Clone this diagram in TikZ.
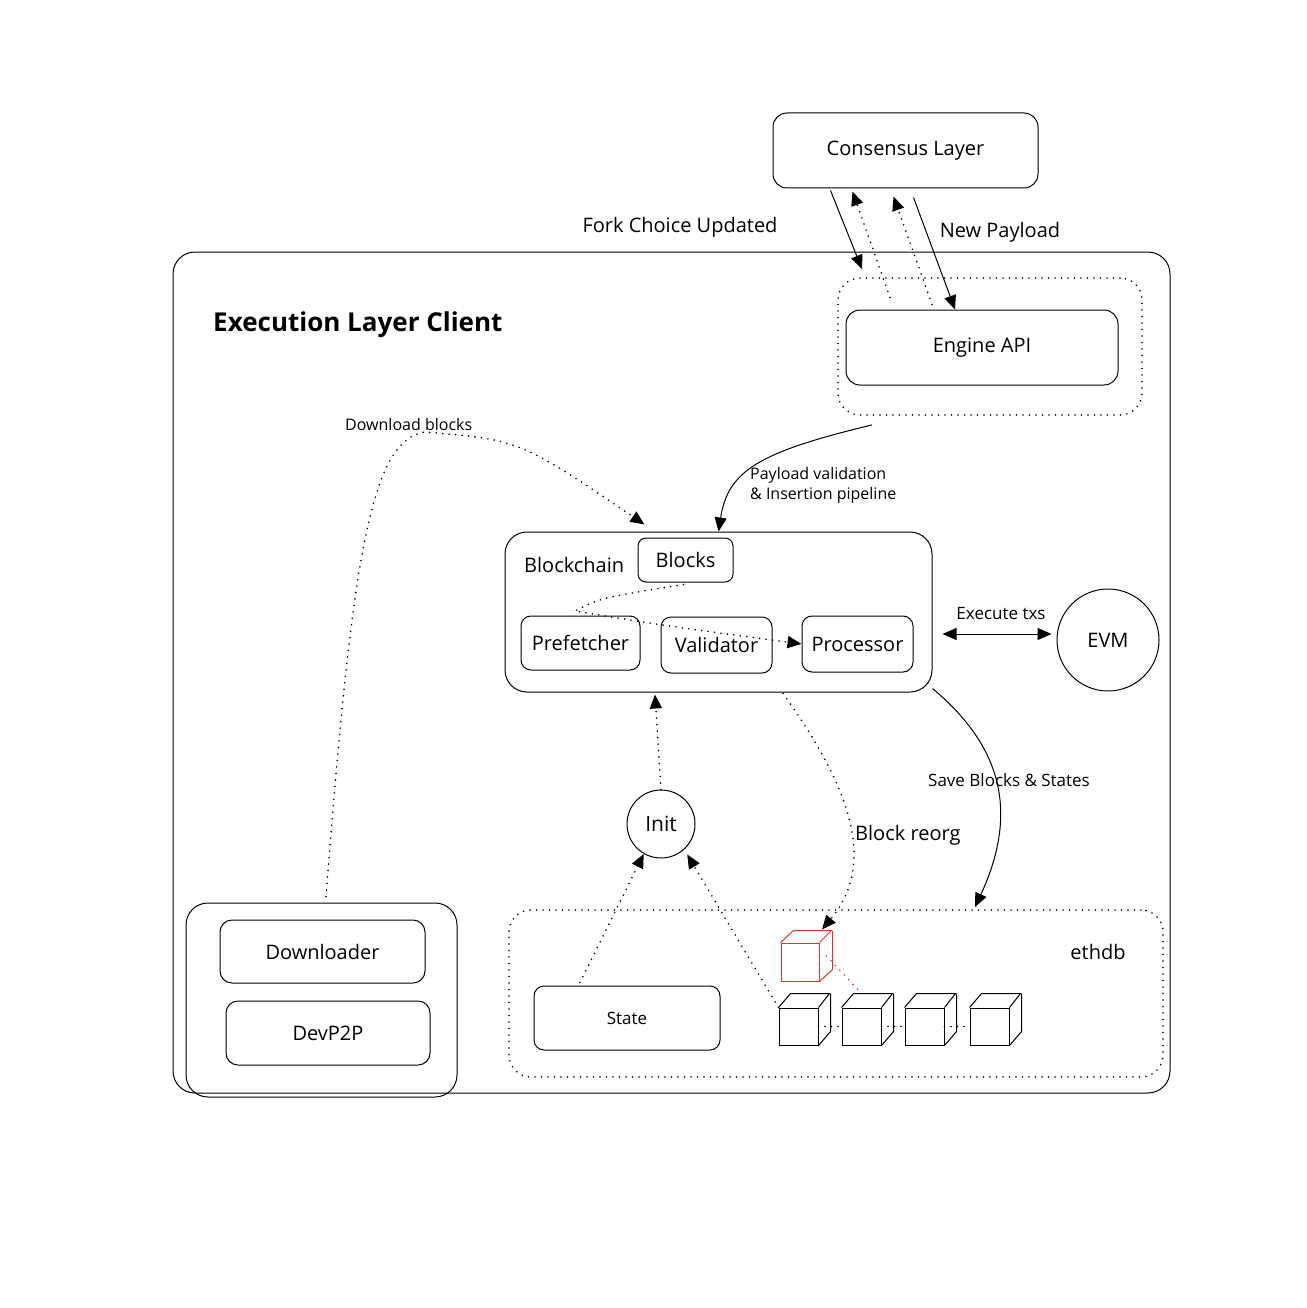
\documentclass[tikz,border=0pt]{standalone}
\usepackage{fontspec}
\setmainfont{Open Sans}
\usetikzlibrary{arrows.meta}
\newcommand{\fsz}[1]{\fontsize{#1}{#1}\selectfont}
\definecolor{xred}{HTML}{E03131}

\tikzstyle{every node}=[inner sep=0pt, font=\fsz{20}]
\tikzstyle{note}=[font=\fsz{16}]
\tikzstyle{box}=[draw, line width=1pt, rounded corners=12pt]
\tikzstyle{grp}=[draw, line width=1pt, rounded corners=22pt]
\tikzstyle{dotline}=[line width=1.8pt, line cap=round, dash pattern=on 0pt off 6.5pt]
\tikzstyle{dotgrp}=[grp, dotline]
\tikzstyle{arr}=[-{Triangle[length=14pt,width=12pt]}]
\tikzstyle{cube}=[draw, line width=1pt, minimum width=39pt, minimum height=37pt]

\begin{document}
\begin{tikzpicture}[x=1pt, y=-1pt]
    \useasboundingbox (0,0) rectangle (1306,1308);

    \node [box, minimum width=265pt, minimum height=75pt, rounded corners=14pt] (cons) at (905.5,150.5) {Consensus Layer};

    \node [grp, minimum width=997pt, minimum height=841pt] (elc) at (671.5,672.5) {};
    \node [anchor=west, font=\fsz{26}\bfseries] (title) at (213,325) {Execution Layer Client};

    \node [dotgrp, minimum width=304pt, minimum height=137pt] (engdot) at (990,346.5) {};
    \node [box, minimum width=272pt, minimum height=75pt, rounded corners=14pt] (eng) at (982,347.5) {Engine API};

    \node (fcu) at (680,227) {Fork Choice Updated};
    \node (np) at (1000,232) {New Payload};

    \draw [arr, line width=1pt] ([xshift=-75pt,yshift=-2pt]cons.south) -- ([xshift=-128pt,yshift=8pt]engdot.north);
    \draw [arr, dotline] ([xshift=-92pt,yshift=12pt]eng.north) -- ([xshift=-53pt,yshift=-3pt]cons.south);
    \draw [arr, dotline] ([xshift=-50pt,yshift=5pt]eng.north) -- ([xshift=-12pt,yshift=-8pt]cons.south);
    \draw [arr, line width=1pt] ([xshift=8pt,yshift=-9pt]cons.south) -- ([xshift=-27pt]eng.north);

    \node [grp, minimum width=427pt, minimum height=160pt] (bc) at (718.5,612) {};
    \node [anchor=west] (bclbl) at (524,565) {Blockchain};
    \node [box, rounded corners=8pt, minimum width=95pt, minimum height=44pt] (blocks) at (685.5,560) {Blocks};
    \node [box, rounded corners=10pt, minimum width=119pt, minimum height=54pt] (pref) at (580.5,643) {Prefetcher};
    \node [box, rounded corners=10pt, minimum width=111pt, minimum height=56pt] (valid) at (716.5,645) {Validator};
    \node [box, rounded corners=10pt, minimum width=111pt, minimum height=56pt] (proc) at (857.5,644) {Processor};
    \draw [arr, dotline] ([xshift=-2pt,yshift=-2pt]blocks.south) .. controls (600,598) .. (575,611) .. controls (660,625) .. (proc.west);

    \draw [arr, line width=1pt] ([xshift=-118pt,yshift=-9pt]engdot.south) .. controls (760,452) and (728,470) .. (bc.north);
    \node [note, anchor=west, align=left] (pvlbl) at (750,485) {Payload validation\\[4pt]\& Insertion pipeline};

    \node [draw, circle, line width=1pt, minimum size=102pt] (evm) at (1108,640) {EVM};
    \draw [{Triangle[length=14pt,width=12pt]}-{Triangle[length=14pt,width=12pt]}, line width=1pt] ([xshift=10pt,yshift=-22pt]bc.east) -- ([xshift=-5pt,yshift=6pt]evm.west);
    \node [note, font=\fsz{17}] (exlbl) at (1001,614) {Execute txs};

    \node [draw, circle, line width=1pt, minimum size=68pt, font=\fsz{21}] (init) at (661,824) {Init};
    \draw [arr, dotline] (init.north) -- ([xshift=-63.5pt,yshift=-2pt]bc.south);

    \node [dotgrp, minimum width=654pt, minimum height=167pt] (ethdb) at (836,993.5) {};
    \node (ethlbl) at (1098,952) {ethdb};
    \node [box, rounded corners=10pt, minimum width=186pt, minimum height=64pt, font=\fsz{17}] (state) at (627,1018) {State};

    \foreach \n/\x in {1/798.5, 2/861.5, 3/924.5, 4/989.5} {
        \node [cube] (c\n) at (\x,1026.5) {};
        \draw [line width=1pt] (c\n.north west) -- ++(12,-14) -- ++(39,0) -- (c\n.north east);
        \draw [line width=1pt] ([shift={(12,-14)}]c\n.north east) -- ([shift={(12,-14)}]c\n.south east) -- (c\n.south east);
    }
    \foreach \a/\b in {1/2, 2/3, 3/4}
        \draw [dotline] (c\a.east) -- (c\b.west);
    \node [cube, draw=xred, minimum width=38pt, minimum height=38pt] (rc) at (800,962) {};
    \draw [xred, line width=1pt] (rc.north west) -- ++(13,-12) -- ++(38,0) -- (rc.north east);
    \draw [xred, line width=1pt] ([shift={(13,-12)}]rc.north east) -- ([shift={(13,-12)}]rc.south east) -- (rc.south east);
    \draw [dotline, xred] ([shift={(7,-6)}]rc.east) -- ([shift={(0,-14)}]c2.north);

    \draw [arr, dotline] ([yshift=3pt,xshift=-47pt]state.north) -- (init.240);
    \draw [arr, dotline] (c1.north west) -- ([shift={(4,4)}]init.-50);

    \draw [arr, dotline] ([xshift=64.5pt,yshift=-1pt]bc.south) .. controls (845,780) and (880,860) .. ([xshift=22pt,yshift=13pt]rc.north);
    \node [anchor=west] (reorg) at (855,835) {Block reorg};

    \draw [arr, line width=1pt] ([yshift=4pt]bc.south east) .. controls (1000,745) and (1020,810) .. ([xshift=139pt,yshift=2pt]ethdb.north);
    \node [note, font=\fsz{17}] (savelbl) at (1009,780) {Save Blocks \& States};

    \node [grp, minimum width=271pt, minimum height=194pt] (dlgrp) at (321.5,1000) {};
    \node [box, minimum width=205pt, minimum height=63pt] (dl) at (322.5,951.5) {Downloader};
    \node [box, minimum width=204pt, minimum height=64pt] (p2p) at (328,1033) {DevP2P};

    \draw [arr, dotline] ([xshift=4.5pt,yshift=6pt]dlgrp.north) .. controls (352,560) and (370,440) .. (425,432) .. controls (520,440) .. ([xshift=-74pt,yshift=7pt]bc.north);
    \node [note, anchor=west] (dllbl) at (345,424) {Download blocks};
\end{tikzpicture}
\end{document}
